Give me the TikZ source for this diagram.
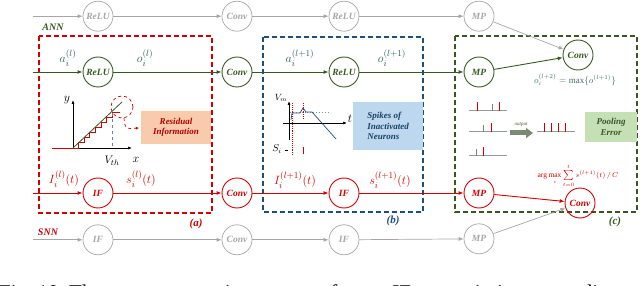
\documentclass[tikz,border=0pt]{standalone}
\usepackage{fontspec}
\setmainfont{Liberation Serif}
\usetikzlibrary{arrows.meta,positioning}

\definecolor{anngreen}{HTML}{385723}
\definecolor{snnred}{HTML}{D20000}
\definecolor{offgray}{HTML}{A6A6A6}
\definecolor{boxblue}{HTML}{1F4E79}
\definecolor{mathteal}{HTML}{2F5F5A}
\definecolor{residfill}{HTML}{F8CBAD}
\definecolor{spikefill}{HTML}{BDD7EE}
\definecolor{poolfill}{HTML}{C5E0B4}

\begin{document}
\begin{tikzpicture}[
    x=1pt, y=-1pt,
    node distance=25pt,
    unit/.style={draw, circle, minimum size=30pt, inner sep=0pt, line width=0.9pt, font=\fontsize{9.5}{10}\selectfont\bfseries\itshape},
    ann/.style={unit, anngreen, text=anngreen},
    snn/.style={unit, snnred, text=snnred},
    off/.style={unit, offgray, text=offgray, line width=0.7pt},
    flow/.style={-{Latex[length=5pt,width=4pt]}, line width=0.9pt},
    region/.style={line width=1.2pt, dash pattern=on 5pt off 3pt},
    tag/.style={font=\fontsize{11}{12}\selectfont\bfseries\itshape},
    note/.style={align=center, inner sep=2pt, font=\fontsize{9}{10.5}\selectfont\bfseries\itshape},
    sig/.style={font=\fontsize{12.5}{13}\selectfont},
    axis/.style={-{Latex[length=4pt,width=3pt]}, line width=0.7pt}
]
\useasboundingbox (0,0) rectangle (640,286);

% dashed regions
\draw[region, snnred] (39,36) rectangle (212,213);
\draw[region, boxblue] (263,37) rectangle (423,212);
\draw[region, anngreen] (455,36) rectangle (637,212);

% ANN
\node[ann] (relu1) at (98,72) {ReLU};
\node[ann] (conv1) at (237,72) {Conv};
\node[ann] (relu2) at (344,72) {ReLU};
\node[ann] (mp1) at (479,72) {MP};
\node[ann] (conv3) at (578,55) {Conv};
\node[off, above=of relu1] (grelu1) {ReLU};
\node[off, above=of conv1] (gconv1) {Conv};
\node[off, above=of relu2] (grelu2) {ReLU};
\node[off, above=of mp1] (gmp1) {MP};
\coordinate[left=50pt of relu1] (annin);
\coordinate[left=50pt of grelu1] (gannin);

% SNN
\node[snn] (if1) at (98,193) {IF};
\node[snn] (conv2) at (237,193) {Conv};
\node[snn] (if2) at (344,193) {IF};
\node[snn] (mp2) at (479,193) {MP};
\node[snn] (conv4) at (580,203) {Conv};
\node[off, below=16pt of if1] (gif1) {IF};
\node[off, below=16pt of conv2] (gconv2) {Conv};
\node[off, below=16pt of if2] (gif2) {IF};
\node[off, below=15pt of mp2] (gmp2) {MP};
\coordinate[left=50pt of if1] (snnin);
\coordinate[left=50pt of gif1] (gsnnin);

\draw[flow, offgray, line width=0.7pt] (gannin) -- (grelu1);
\draw[flow, offgray, line width=0.7pt] (grelu1) -- (gconv1);
\draw[flow, offgray, line width=0.7pt] (gconv1) -- (grelu2);
\draw[flow, offgray, line width=0.7pt] (grelu2) -- (gmp1);
\draw[flow, offgray, line width=0.7pt] (gmp1) -- (conv3);
\draw[flow, anngreen] (annin) -- (relu1);
\draw[flow, anngreen] (relu1) -- (conv1);
\draw[flow, anngreen] (conv1) -- (relu2);
\draw[flow, anngreen] (relu2) -- (mp1);
\draw[flow, anngreen] (mp1) -- (conv3);
\draw[flow, snnred] (snnin) -- (if1);
\draw[flow, snnred] (if1) -- (conv2);
\draw[flow, snnred] (conv2) -- (if2);
\draw[flow, snnred] (if2) -- (mp2);
\draw[flow, snnred] (mp2) -- (conv4);
\draw[flow, offgray, line width=0.7pt] (gsnnin) -- (gif1);
\draw[flow, offgray, line width=0.7pt] (gif1) -- (gconv2);
\draw[flow, offgray, line width=0.7pt] (gconv2) -- (gif2);
\draw[flow, offgray, line width=0.7pt] (gif2) -- (gmp2);
\draw[flow, offgray, line width=0.7pt] (gmp2) -- (conv4);

% labels
\node[tag, anngreen, font=\fontsize{10}{11}\selectfont\bfseries\itshape] (annlbl) at (53,27) {ANN};
\node[tag, snnred, font=\fontsize{10}{11}\selectfont\bfseries\itshape] (snnlbl) at (48,232) {SNN};
\node[tag, snnred] (lbla) at (196,224) {(a)};
\node[tag, boxblue] (lblb) at (393,221) {(b)};
\node[tag, anngreen] (lblc) at (615,222) {(c)};
\node[sig, mathteal] (ai) at (68,58) {$a_i^{(l)}$};
\node[sig, mathteal] (oi) at (145,58) {$o_i^{(l)}$};
\node[sig, mathteal] (ai2) at (300,58) {$a_i^{(l+1)}$};
\node[sig, mathteal] (oi2) at (392,58) {$o_i^{(l+1)}$};
\node[sig, snnred] (ii) at (64,179) {$I_i^{(l)}(t)$};
\node[sig, snnred] (si) at (141,179) {$s_i^{(l)}(t)$};
\node[sig, snnred] (ii2) at (295,180) {$I_i^{(l+1)}(t)$};
\node[sig, snnred] (si2) at (390,180) {$s_i^{(l+1)}(t)$};
\node[font=\fontsize{9}{10}\selectfont, mathteal!70!gray] (maxeq) at (575,80) {$o_i^{(l+2)}=\max\{o^{(l+1)}\}$};
\node[font=\fontsize{7.5}{8}\selectfont, snnred] (argeq) at (578,176) {$\arg\max\limits_i \sum\limits_{t=0}^{t} s^{(l+1)}(t)\,/\,C$};

% (a) residual information
\draw[axis] (73,148) -- (73,100);
\draw[axis] (73,148) -- (132,148);
\draw[snnred, line width=0.8pt] (52,148) -- (73,148);
\draw[snnred, line width=0.8pt] (73,148) \foreach \k in {1,...,7} { -- ++(5.6,0) -- ++(0,-5.1) } -- ++(8,0);
\draw[anngreen, line width=0.8pt] (73,148) -- (122,102);
\draw[boxblue!70, dashed, line width=0.6pt] (112,113) -- (112,148);
\node[sig] (ylbl) at (67,100) {$y$};
\node[sig] (xlbl) at (136,160) {$x$};
\node[sig, font=\fontsize{11}{12}\selectfont] (vth) at (112,161) {$V_{th}$};
\draw[snnred, dashed, line width=0.7pt] (122,107) circle (11pt);
\draw[snnred, dashed, line width=0.7pt, -{Latex[length=3pt,width=3pt]}] (124,118) .. controls (125,129) .. (139,128);
\node[note, fill=residfill, text=snnred!85!black, minimum width=70pt, minimum height=33pt] (resid) at (176,127.5) {Residual\\Information};

% (b) inactivated neurons
\draw[axis] (289,140) -- (289,101);
\draw[axis] (283,123) -- (347,123);
\node[font=\fontsize{9}{10}\selectfont] (vm) at (281,98) {$V_m$};
\node[sig] (tlbl) at (350,119) {$t$};
\draw[boxblue!60, dotted, line width=0.9pt] (290,112) -- (328,112);
\draw[boxblue, line width=0.7pt] (291,120) -- (292,113) -- (300,113) -- (303,108) -- (306,112) -- (312,112) -- (336,139);
\draw[snnred, densely dotted, line width=0.9pt] (292,103) -- (292,156);
\draw[snnred, densely dotted, line width=0.9pt] (303,103) -- (303,119);
\draw[snnred, line width=1pt] (303,147) -- (303,154);
\node[font=\fontsize{10}{11}\selectfont] (silbl) at (277,149) {$S_i$};
\draw[line width=0.5pt] (285,150) -- (288,150);
\node[note, fill=spikefill, text=boxblue!85!black, minimum width=70pt, minimum height=48pt, align=left] (inact) at (388,126) {Spikes of\\Inactivated\\Neurons};

% (c) pooling error
\foreach \bx/\by in {469/111, 469/132, 469/156, 537/132}
  \draw[gray!80, line width=1pt] (\bx,\by) -- ++(38,0);
\foreach \sx/\sy in {492/111, 483/132, 476/156}
  \draw[gray, line width=0.8pt] (\sx,\sy) -- ++(0,-7);
\foreach \sx/\sy in {477/111, 499/111, 491/132, 483/156, 544/132, 551/132, 558/132, 565/132}
  \draw[snnred, line width=1pt] (\sx,\sy) -- ++(0,-9);
\draw[line width=5pt, anngreen!50!gray!80, -{Triangle[length=7pt,width=10pt]}] (510,133) -- (533,133);
\node[font=\fontsize{5}{6}\selectfont\itshape, anngreen] (outlbl) at (521,125) {output};
\node[note, fill=poolfill, text=anngreen, minimum width=52pt, minimum height=30pt] (pool) at (611,127) {Pooling\\Error};

% caption, cut by the page edge
\node[anchor=base west, inner sep=0pt, font=\fontsize{21}{24}\selectfont] (caption) at (-1,299) {Fig.~10.~The\hspace{60pt}comparison\hspace{60pt}of\hspace{55pt}IF\hspace{58pt}timing\hspace{58pt}diagrams};
\end{tikzpicture}
\end{document}
